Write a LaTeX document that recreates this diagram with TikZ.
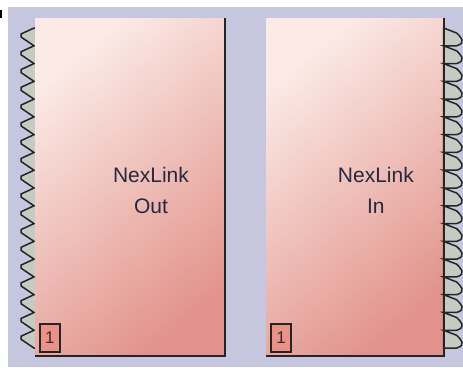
\documentclass[tikz,border=0pt]{standalone}
\usepackage{fontspec}
\setmainfont{Liberation Sans}
\usetikzlibrary{positioning}
\definecolor{bgfill}{RGB}{198,198,222}
\definecolor{blklight}{RGB}{251,234,230}
\definecolor{blkdark}{RGB}{226,148,140}
\definecolor{tabfill}{RGB}{232,146,136}
\definecolor{edgedark}{RGB}{38,36,36}
\definecolor{pinfill}{RGB}{198,202,194}
\definecolor{labeltext}{RGB}{40,40,62}
\definecolor{tabtext}{RGB}{64,40,40}
\tikzset{
  block/.style={rectangle, inner sep=0pt, minimum height=338pt,
                top color=blklight, bottom color=blkdark, shading angle=40},
  tab/.style={rectangle, draw=edgedark, line width=2pt, fill=tabfill, inner sep=0pt,
              minimum width=20pt, minimum height=28pt, text=tabtext, font=\fontsize{17}{17}\selectfont},
  blklabel/.style={align=center, text=labeltext, font=\fontsize{21}{31}\selectfont},
  blkedge/.style={draw=edgedark, line width=2pt},
  pins/.style={fill=pinfill, draw=edgedark, line width=1.5pt, line join=miter}
}

\begin{document}
\begin{tikzpicture}[x=1pt, y=-1pt]
\useasboundingbox (0,0) rectangle (463,367);
\fill[bgfill] (8,7) rectangle (463,367);
\fill[black] (0,10) rectangle (2,18);
% input pins of the Out block
\draw[pins] (38,28) -- (34,28) \foreach \k in {1,...,18} { -- ++(-13,6) -- ++(0,3) -- ++(13,8.78) } -- (38,348) -- cycle;
\node[block, minimum width=190pt] (outblk) at (130,187) {};
\node[block, minimum width=177pt, right=41pt of outblk] (inblk) {};
% output pins of the In block
\draw[pins] (inblk.east |- 0,28) \foreach \k in {1,...,18} { -- ++(13,5) .. controls +(3,3) and +(11,-3) .. ++(0,12.78) -- ++(-13,0) } -- cycle;
\draw[blkedge] (outblk.north east) -- (outblk.south east) -- (outblk.south west);
\draw[blkedge] (inblk.north east) -- (inblk.south east) -- (inblk.south west);
\node[tab, anchor=south west] (outtab) at ([shift={(4,-3.7)}]outblk.south west) {1};
\node[tab, anchor=south west] (intab) at ([shift={(4,-3.7)}]inblk.south west) {1};
\node[blklabel] (outname) at ([shift={(21,3)}]outblk.center) {NexLink\\Out};
\node[blklabel] (inname) at ([shift={(21,3)}]inblk.center) {NexLink\\In};
\end{tikzpicture}
\end{document}
